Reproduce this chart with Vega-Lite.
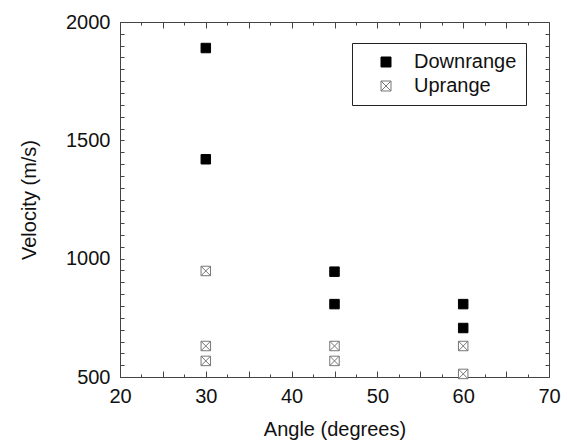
{
  "$schema": "https://vega.github.io/schema/vega-lite/v6.json",
  "width": 429,
  "height": 355,
  "autosize": {"type": "none"},
  "padding": {"left": 120, "top": 22, "right": 18, "bottom": 63},
  "background": "white",
  "config": {
    "view": {"stroke": "#444", "strokeWidth": 1},
    "font": "Liberation Sans",
    "axis": {
      "grid": false,
      "ticks": true,
      "domainColor": "#444",
      "tickColor": "#444",
      "tickWidth": 1,
      "labelFont": "Liberation Sans",
      "titleFont": "Liberation Sans",
      "labelFontSize": 20,
      "titleFontSize": 20,
      "labelColor": "#111",
      "titleColor": "#111",
      "titleFontWeight": "normal"
    }
  },
  "data": {
    "values": [
      {"angle": 30, "velocity": 1890, "side": "Downrange"},
      {"angle": 30, "velocity": 1420, "side": "Downrange"},
      {"angle": 45, "velocity": 945, "side": "Downrange"},
      {"angle": 45, "velocity": 808, "side": "Downrange"},
      {"angle": 60, "velocity": 808, "side": "Downrange"},
      {"angle": 60, "velocity": 707, "side": "Downrange"},
      {"angle": 30, "velocity": 948, "side": "Uprange"},
      {"angle": 30, "velocity": 631, "side": "Uprange"},
      {"angle": 30, "velocity": 568, "side": "Uprange"},
      {"angle": 45, "velocity": 631, "side": "Uprange"},
      {"angle": 45, "velocity": 568, "side": "Uprange"},
      {"angle": 60, "velocity": 631, "side": "Uprange"},
      {"angle": 60, "velocity": 513, "side": "Uprange"}
    ]
  },
  "layer": [
    {
      "mark": {"type": "point", "filled": false, "strokeWidth": 1, "opacity": 1},
      "encoding": {
        "x": {
          "field": "angle", "type": "quantitative",
          "scale": {"domain": [20, 70], "nice": false, "zero": false},
          "axis": {
            "orient": "bottom",
            "title": "Angle (degrees)",
            "values": [20, 22.5, 25, 27.5, 30, 32.5, 35, 37.5, 40, 42.5, 45, 47.5, 50, 52.5, 55, 57.5, 60, 62.5, 65, 67.5, 70],
            "labelExpr": "datum.value % 10 === 0 ? '' + datum.value : ''",
            "tickSize": {"condition": {"test": "datum.value % 5 === 0", "value": -6}, "value": -3},
            "labelPadding": 15,
            "titlePadding": 10,
            "labelFlush": false,
            "labelOverlap": false
          }
        },
        "y": {
          "field": "velocity", "type": "quantitative",
          "scale": {"domain": [500, 2000], "nice": false, "zero": false},
          "axis": {
            "orient": "left",
            "title": "Velocity (m/s)",
            "values": [500, 550, 600, 650, 700, 750, 800, 850, 900, 950, 1000, 1050, 1100, 1150, 1200, 1250, 1300, 1350, 1400, 1450, 1500, 1550, 1600, 1650, 1700, 1750, 1800, 1850, 1900, 1950, 2000],
            "labelExpr": "datum.value % 500 === 0 ? '' + datum.value : ''",
            "tickSize": -4,
            "labelPadding": 14,
            "titlePadding": 26,
            "labelFlush": false,
            "labelOverlap": false
          }
        },
        "shape": {
          "field": "side", "type": "nominal",
          "scale": {"domain": ["Downrange", "Uprange"], "range": ["square", "M-1,-1H1V1H-1Z M-1,-1L1,1 M1,-1L-1,1"]},
          "legend": {
            "title": null,
            "orient": "none",
            "legendX": 232,
            "legendY": 21,
            "strokeColor": "#222",
            "padding": 9,
            "rowPadding": 4,
            "symbolOffset": 15,
            "symbolSize": 100,
            "symbolStrokeWidth": 1,
            "labelOffset": 18,
            "labelFont": "Liberation Sans",
            "labelFontSize": 20,
            "labelColor": "#111",
            "fillColor": "white"
          }
        },
        "fill": {
          "field": "side", "type": "nominal",
          "scale": {"domain": ["Downrange", "Uprange"], "range": ["black", "white"]}
        },
        "stroke": {
          "field": "side", "type": "nominal",
          "scale": {"domain": ["Downrange", "Uprange"], "range": ["black", "#777"]}
        },
        "size": {"value": 90}
      }
    },
    {
      "mark": {"type": "point", "opacity": 0},
      "encoding": {
        "x": {
          "field": "angle", "type": "quantitative",
          "axis": {
            "orient": "top",
            "title": null,
            "labels": false,
            "domain": false,
            "ticks": true,
            "values": [20, 22.5, 25, 27.5, 30, 32.5, 35, 37.5, 40, 42.5, 45, 47.5, 50, 52.5, 55, 57.5, 60, 62.5, 65, 67.5, 70],
            "tickSize": {"condition": {"test": "datum.value % 5 === 0", "value": -6}, "value": -3}
          }
        },
        "y": {
          "field": "velocity", "type": "quantitative",
          "axis": {
            "orient": "right",
            "title": null,
            "labels": false,
            "domain": false,
            "ticks": true,
            "values": [500, 550, 600, 650, 700, 750, 800, 850, 900, 950, 1000, 1050, 1100, 1150, 1200, 1250, 1300, 1350, 1400, 1450, 1500, 1550, 1600, 1650, 1700, 1750, 1800, 1850, 1900, 1950, 2000],
            "tickSize": -4
          }
        }
      }
    }
  ],
  "resolve": {"axis": {"x": "independent", "y": "independent"}}
}
